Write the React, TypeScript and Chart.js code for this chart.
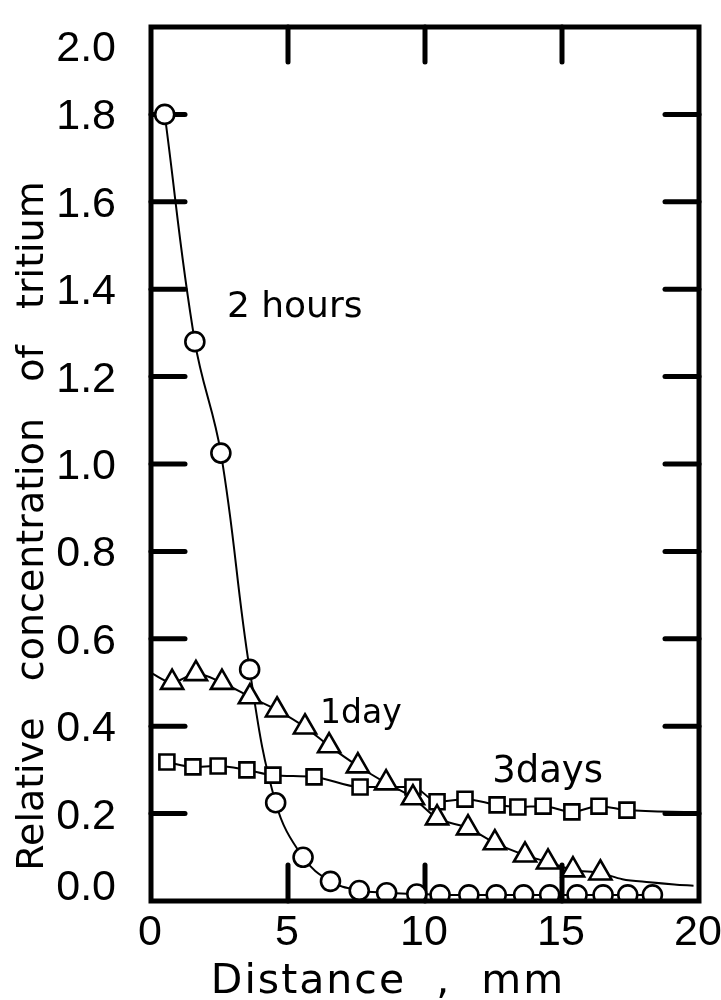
import React, { useEffect, useRef } from 'react';
import { Chart, registerables } from 'chart.js';

Chart.register(...registerables);

// ---- axis ranges / ticks ----
const X_MIN = 0;
const X_MAX = 20;
const X_STEP = 5;
const Y_MIN = 0;
const Y_MAX = 2.0;
const Y_STEP = 0.2;

// ---- 2 hours (circles) ----
const hoursX = [0.5, 1.6, 2.55, 3.6, 4.55, 5.55, 6.55, 7.6, 8.6, 9.7, 10.55, 11.6, 12.6, 13.6, 14.55, 15.55, 16.5, 17.4, 18.3];
const hoursY = [1.8, 1.28, 1.025, 0.53, 0.225, 0.1, 0.045, 0.024, 0.019, 0.016, 0.014, 0.014, 0.014, 0.014, 0.014, 0.014, 0.014, 0.014, 0.014];

// ---- 1 day (triangles) ----
const dayX = [0.77, 1.64, 2.59, 3.61, 4.6, 5.62, 6.5, 7.55, 8.58, 9.56, 10.44, 11.57, 12.55, 13.65, 14.49, 15.4, 16.4];
const dayY = [0.5, 0.52, 0.5, 0.467, 0.437, 0.398, 0.355, 0.309, 0.27, 0.236, 0.19, 0.167, 0.133, 0.105, 0.089, 0.071, 0.064];
const dayHeadX = [0];
const dayHeadY = [0.522];
const dayTailX = [17.2, 18.2, 19.1, 19.8];
const dayTailY = [0.05, 0.043, 0.038, 0.035];

// ---- 3 days (squares) ----
const daysX = [0.58, 1.53, 2.45, 3.5, 4.45, 5.95, 7.63, 9.56, 10.44, 11.46, 12.63, 13.39, 14.31, 15.36, 16.35, 17.37];
const daysY = [0.318, 0.307, 0.309, 0.3, 0.288, 0.284, 0.261, 0.261, 0.227, 0.233, 0.22, 0.215, 0.217, 0.204, 0.217, 0.208];
const daysTailX = [19.8];
const daysTailY = [0.203];

// ---- curve labels ----
const labelTexts = ['2 hours', '1day', '3days'];
const labelX = [2.77, 6.17, 12.45];
const labelY = [1.336, 0.407, 0.272];
const labelFontSizes = [36, 33, 37];

const xTitle = 'Distance  ,  mm';
const yTitle = 'Relative   concentration   of   tritium';

const pts = (xs: number[], ys: number[]) => xs.map((x, i) => ({ x, y: ys[i] }));

const NUM_FONT = '43px "Liberation Sans"';
const WORD_FONT = '"DejaVu Sans"';

const framePlugin = {
  id: 'framePlugin',
  beforeDatasetsDraw(chart: any) {
    const { ctx, chartArea: a, scales } = chart;
    const xs = scales.x;
    const ys = scales.y;
    const L = 34;
    ctx.save();
    ctx.strokeStyle = '#000';
    ctx.lineWidth = 5;
    ctx.lineCap = 'round';
    const seg = (x1: number, y1: number, x2: number, y2: number) => {
      ctx.beginPath();
      ctx.moveTo(x1, y1);
      ctx.lineTo(x2, y2);
      ctx.stroke();
    };
    ys.ticks.forEach((t: any) => {
      if (t.value <= Y_MIN + 1e-9 || t.value >= Y_MAX - 1e-9) return;
      const py = ys.getPixelForValue(t.value);
      seg(a.left, py, a.left + L, py);
      seg(a.right, py, a.right - L, py);
    });
    xs.ticks.forEach((t: any) => {
      if (t.value <= X_MIN + 1e-9 || t.value >= X_MAX - 1e-9) return;
      const px = xs.getPixelForValue(t.value);
      seg(px, a.top, px, a.top + L + 1);
      seg(px, a.bottom, px, a.bottom - L - 2);
    });
    ctx.restore();
  },
  afterDatasetsDraw(chart: any) {
    const { ctx, chartArea: a, scales } = chart;
    const xs = scales.x;
    const ys = scales.y;
    ctx.save();
    // frame
    ctx.strokeStyle = '#000';
    ctx.lineWidth = 5;
    ctx.lineJoin = 'miter';
    ctx.strokeRect(a.left, a.top, a.right - a.left, a.bottom - a.top);

    ctx.fillStyle = '#000';
    // y tick labels
    ctx.font = NUM_FONT;
    ctx.textAlign = 'right';
    ctx.textBaseline = 'alphabetic';
    const yt = ys.ticks;
    yt.forEach((t: any, i: number) => {
      let py = ys.getPixelForValue(t.value) + 15;
      if (i === 0) py -= 16;
      if (i === yt.length - 1) py += 19;
      ctx.fillText(t.value.toFixed(1), a.left - 35, py);
    });
    // x tick labels
    ctx.textAlign = 'center';
    xs.ticks.forEach((t: any) => {
      const px = xs.getPixelForValue(t.value);
      ctx.fillText(String(Math.round(t.value)), px - 1, a.bottom + 44);
    });

    // curve labels
    ctx.textAlign = 'left';
    labelTexts.forEach((txt, i) => {
      ctx.font = `${labelFontSizes[i]}px ${WORD_FONT}`;
      ctx.fillText(txt, xs.getPixelForValue(labelX[i]), ys.getPixelForValue(labelY[i]));
    });

    // x title
    ctx.font = `41px ${WORD_FONT}`;
    ctx.textAlign = 'center';
    (ctx as any).letterSpacing = '2px';
    ctx.fillText(xTitle, 388, 993);
    (ctx as any).letterSpacing = '0px';

    // y title
    ctx.translate(43, 526);
    ctx.rotate(-Math.PI / 2);
    ctx.font = `38px ${WORD_FONT}`;
    ctx.textAlign = 'center';
    ctx.fillText(yTitle, 0, 0);
    ctx.restore();
  },
};

export default function App() {
  const ref = useRef<HTMLCanvasElement | null>(null);

  useEffect(() => {
    if (!ref.current) return;
    const marker = {
      showLine: false,
      borderColor: '#000',
      backgroundColor: '#fff',
      pointBackgroundColor: '#fff',
      pointBorderColor: '#000',
      pointBorderWidth: 2.6,
      order: 0,
    };
    const curve = {
      showLine: true,
      borderColor: '#000',
      borderWidth: 2,
      pointRadius: 0,
      pointHoverRadius: 0,
      cubicInterpolationMode: 'monotone',
      fill: false,
      order: 1,
    };
    const chart = new Chart(ref.current, {
      type: 'scatter',
      data: {
        datasets: [
          { ...marker, label: '2 hours', data: pts(hoursX, hoursY), pointStyle: 'circle', pointRadius: 9.5 },
          { ...marker, label: '1 day', data: pts(dayX, dayY), pointStyle: 'triangle', pointRadius: 12.8 },
          { ...marker, label: '3 days', data: pts(daysX, daysY), pointStyle: 'rect', pointRadius: 10.6 },
          {
            ...curve,
            label: '2 hours curve',
            data: pts(hoursX, hoursY),
            cubicInterpolationMode: 'default',
            tension: 0.4,
          },
          {
            ...curve,
            label: '1 day curve',
            data: pts([...dayHeadX, ...dayX, ...dayTailX], [...dayHeadY, ...dayY, ...dayTailY]),
          },
          {
            ...curve,
            label: '3 days curve',
            data: pts([...daysX, ...daysTailX], [...daysY, ...daysTailY]),
          },
        ] as any,
      },
      options: {
        animation: false,
        responsive: false,
        devicePixelRatio: 1,
        layout: { padding: { left: 151, right: 22, top: 27, bottom: 99 } },
        plugins: { legend: { display: false }, tooltip: { enabled: false } },
        events: [],
        scales: {
          x: { type: 'linear', min: X_MIN, max: X_MAX, display: false, ticks: { stepSize: X_STEP } },
          y: { type: 'linear', min: Y_MIN, max: Y_MAX, display: false, ticks: { stepSize: Y_STEP } },
        },
      } as any,
      plugins: [framePlugin],
    });
    return () => chart.destroy();
  }, []);

  return (
    <div style={{ position: 'absolute', left: 0, top: 0, width: 721, height: 1000, background: '#fff' }}>
      <canvas ref={ref} width={721} height={1000} style={{ display: 'block', width: 721, height: 1000 }} />
    </div>
  );
}
